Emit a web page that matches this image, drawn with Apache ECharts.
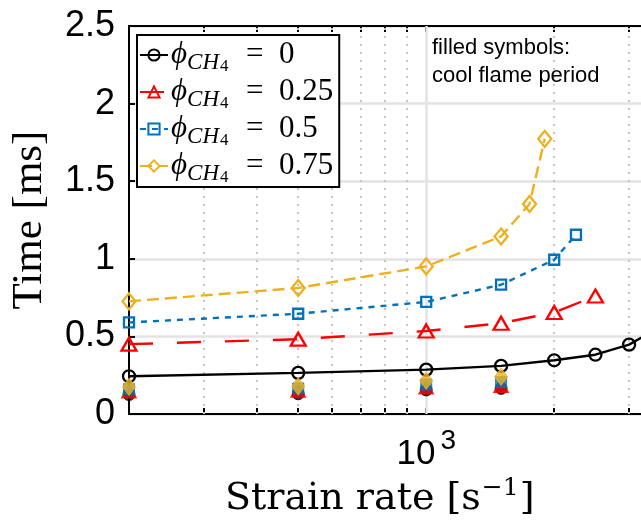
<!DOCTYPE html>
<html>
<head>
<meta charset="utf-8">
<script src="https://cdn.jsdelivr.net/npm/echarts@6/dist/echarts.min.js"></script>
<style>html,body{margin:0;padding:0;background:#fff}#c{width:641px;height:521px}</style>
</head>
<body>
<div id="c"></div>
<script>
// ---- data ----
const rate0 = [200, 500, 1000, 1500, 2000, 2500, 3000, 3500];
const time0 = [0.243, 0.265, 0.286, 0.31, 0.346, 0.382, 0.447, 0.55];
const rate025 = [200, 500, 1000, 1500, 2000, 2500];
const time025 = [0.45, 0.482, 0.535, 0.585, 0.654, 0.76];
const rate05 = [200, 500, 1000, 1500, 2000, 2250];
const time05 = [0.59, 0.646, 0.722, 0.833, 0.994, 1.155];
const rate075 = [200, 500, 1000, 1500, 1750, 1900];
const time075 = [0.726, 0.812, 0.951, 1.144, 1.353, 1.773];
const coolRate = [200, 500, 1000, 1500];
const cool0 = [0.125, 0.13, 0.155, 0.165];
const cool025 = [0.145, 0.15, 0.17, 0.18];
const cool05 = [0.16, 0.165, 0.19, 0.205];
const cool075 = [0.175, 0.178, 0.215, 0.24];
const phiLabels = ['0', '0.25', '0.5', '0.75'];
const xMinorGrid = [300, 400, 500, 600, 700, 800, 900, 2000, 3000];
const xMajorGrid = [1000];
const xTickValues = [300, 400, 500, 600, 700, 800, 900, 1000, 2000, 3000];

const pairs = (xs, ys) => xs.map((x, i) => [x, ys[i]]);
const colors = ['#000000', '#ff0000', '#0072bd', '#edb120'];
const names = ['p0', 'p025', 'p05', 'p075'];
const symbols = ['circle', 'triangle', 'rect', 'diamond'];
const sizes = [12, [15, 13], 10, [13, 16]];
const filledSizes = [12, [15, 13], 11, [13, 17]];
const dashes = ['solid', [24, 24], [6, 6], [12, 6]];
const lineData = [pairs(rate0, time0), pairs(rate025, time025), pairs(rate05, time05), pairs(rate075, time075)];
const coolData = [pairs(coolRate, cool0), pairs(coolRate, cool025), pairs(coolRate, cool05), pairs(coolRate, cool075)];

const chart = echarts.init(document.getElementById('c'), null, {renderer: 'canvas'});

const serif = "'Liberation Serif', 'DejaVu Serif', serif";
const sans = "'Liberation Sans', Arial, sans-serif";

const series = [];
series.push({
  type: 'line', data: [], z: 1, silent: true,
  markLine: {
    silent: true, symbol: 'none', z: 1, animation: false,
    label: {show: false},
    data: xMinorGrid.map(v => ({xAxis: v, lineStyle: {color: '#c4c4c4', width: 2, type: [2, 6]}}))
      .concat(xMajorGrid.map(v => ({xAxis: v, lineStyle: {color: '#e3e3e3', width: 2.5, type: 'solid'}})))
  }
});
for (let i = 0; i < 4; i++) {
  series.push({
    name: names[i], type: 'line', data: lineData[i], z: 3,
    symbol: symbols[i], symbolSize: sizes[i], showSymbol: true,
    lineStyle: {color: colors[i], width: 2.4, type: dashes[i]},
    itemStyle: {color: 'rgba(255,255,255,0)', borderColor: colors[i], borderWidth: 2.3},
    emphasis: {disabled: true}, animation: false
  });
}
for (let i = 0; i < 4; i++) {
  series.push({
    name: 'cool' + names[i], type: 'scatter', data: coolData[i], z: 4,
    symbol: symbols[i], symbolSize: filledSizes[i],
    itemStyle: {color: colors[i], borderColor: colors[i], borderWidth: 1},
    emphasis: {disabled: true}, animation: false
  });
}

const xAxisBase = {
  type: 'log', logBase: 10, min: 200, max: 3200,
  axisLine: {show: true, onZero: false, lineStyle: {color: '#000', width: 2}},
  axisTick: {show: true, inside: true, length: 6, customValues: xTickValues, lineStyle: {color: '#000', width: 2}},
  splitLine: {show: false},
  minorTick: {show: false}
};

const option = {
  backgroundColor: '#fff',
  animation: false,
  grid: {left: 127, right: 0, top: 26, bottom: 107, containLabel: false},
  xAxis: [
    Object.assign({}, xAxisBase, {
      position: 'bottom',
      axisLabel: {
        show: true, margin: 12, showMinLabel: false, showMaxLabel: false,
        formatter: v => (Math.abs(v - 1000) < 1 ? '{a|10}{b|3}' : ''),
        rich: {
          a: {fontFamily: sans, fontSize: 35, color: '#000', lineHeight: 44, verticalAlign: 'middle', padding: [12, 0, 0, 0]},
          b: {fontFamily: sans, fontSize: 28, color: '#000', lineHeight: 44, verticalAlign: 'middle', padding: [0, 0, 14, 5]}
        }
      }
    }),
    Object.assign({}, xAxisBase, {position: 'top', axisLabel: {show: false}})
  ],
  yAxis: {
    type: 'value', min: 0, max: 2.5, interval: 0.5,
    axisLine: {show: true, lineStyle: {color: '#000', width: 2}},
    axisTick: {show: true, inside: true, length: 6, lineStyle: {color: '#000', width: 2}},
    axisLabel: {
      fontFamily: sans, fontSize: 36, color: '#000', margin: 14,
      formatter: v => String(v)
    },
    splitLine: {show: true, lineStyle: {color: '#e3e3e3', width: 2.5}},
    name: 'Time [ms]', nameLocation: 'middle', nameGap: 78, nameRotate: 90,
    nameTextStyle: {fontFamily: serif, fontSize: 43, color: '#000'}
  },
  legend: {
    data: names, orient: 'vertical', left: 137, top: 35,
    padding: [0, 6, 1, 2], itemGap: -3, itemWidth: 28, itemHeight: 14,
    borderColor: '#000', borderWidth: 2, backgroundColor: '#fff',
    selectedMode: false,
    formatter: name => '{phi|ϕ}{sub|CH}{sub2|4}{eq|  =  ' + phiLabels[names.indexOf(name)] + '}',
    textStyle: {
      color: '#000', padding: [0, 0, 0, -2],
      rich: {
        phi: {fontFamily: serif, fontStyle: 'italic', fontSize: 31, lineHeight: 42, verticalAlign: 'middle', color: '#000'},
        sub: {fontFamily: serif, fontStyle: 'italic', fontSize: 23, lineHeight: 42, verticalAlign: 'middle', padding: [16, 1, 0, 0], color: '#000'},
        sub2: {fontFamily: serif, fontSize: 17, lineHeight: 42, verticalAlign: 'middle', padding: [23, 2, 0, 0], color: '#000'},
        eq: {fontFamily: serif, fontSize: 31, lineHeight: 42, verticalAlign: 'middle', color: '#000'}
      }
    }
  },
  graphic: [
    {
      type: 'text', left: 432, top: 34, z: 10, silent: true,
      style: {text: 'filled symbols:\ncool flame period', font: '22px ' + sans, fill: '#000', lineHeight: 28}
    },
    {
      type: 'text', left: 225, top: 476, z: 10, silent: true,
      style: {
        text: '{m|Strain rate [s}{s|−1}{m|]}',
        rich: {
          m: {fontFamily: "'DejaVu Serif', serif", fontSize: 38, lineHeight: 42, verticalAlign: 'bottom', color: '#000'},
          s: {fontFamily: "'DejaVu Serif', serif", fontSize: 25, lineHeight: 25, verticalAlign: 'top', padding: [0, 1, 18, 1], color: '#000'}
        }
      }
    }
  ],
  series: series
};
chart.setOption(option);
</script>
</body>
</html>
